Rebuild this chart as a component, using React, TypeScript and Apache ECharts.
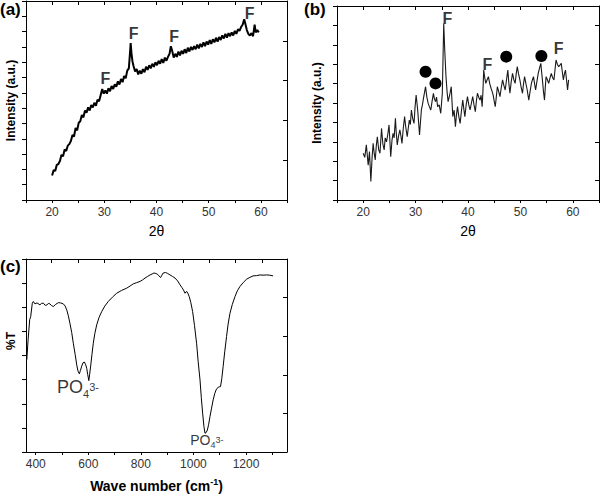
import React, { useEffect, useRef } from "react";
import * as echarts from "echarts";

const FONT = 'Arial, "Liberation Sans", Helvetica, sans-serif';

// ---- Panel (a): XRD pattern ----
const xrdA: [number, number][] = [
  [20.0,1.60],[20.3,1.95],[20.6,1.90],[20.9,2.30],[21.2,2.35],[21.5,2.55],[21.8,2.95],[22.1,2.85],[22.4,3.30],[22.7,3.20],
  [23.0,3.55],[23.3,3.65],[23.6,3.85],[23.9,4.25],[24.2,4.15],[24.5,4.70],[24.8,4.55],[25.1,5.05],[25.4,5.15],[25.7,5.55],
  [26.0,5.40],[26.3,5.85],[26.6,5.70],[26.9,6.05],[27.2,5.85],[27.5,6.20],[27.8,6.05],[28.1,6.35],[28.4,6.15],[28.7,6.55],
  [29.0,6.45],[29.3,6.85],[29.6,7.25],[29.9,6.95],[30.2,7.15],[30.5,6.95],[30.8,7.30],[31.1,7.10],[31.4,7.45],[31.7,7.25],
  [32.0,7.55],[32.3,7.40],[32.6,7.75],[32.9,7.55],[33.2,7.90],[33.5,7.70],[33.8,8.10],[34.1,7.95],[34.4,8.45],[34.7,8.60],
  [34.9,9.50],[35.05,10.25],[35.2,9.60],[35.4,9.05],[35.6,8.75],[35.9,8.40],[36.2,8.55],[36.5,8.20],[36.8,8.45],[37.1,8.25],
  [37.4,8.55],[37.7,8.35],[38.0,8.70],[38.3,8.50],[38.6,8.80],[38.9,8.60],[39.2,8.90],[39.5,8.70],[39.8,9.00],[40.1,8.80],
  [40.4,9.10],[40.7,8.90],[41.0,9.20],[41.3,8.95],[41.6,9.30],[41.9,9.10],[42.2,9.35],[42.5,9.55],[42.75,10.05],[43.0,9.75],
  [43.3,9.30],[43.6,9.55],[43.9,9.35],[44.2,9.70],[44.5,9.45],[44.8,9.75],[45.1,9.55],[45.4,9.85],[45.7,9.60],[46.0,9.95],
  [46.3,9.70],[46.6,10.00],[46.9,9.80],[47.2,10.05],[47.5,9.85],[47.8,10.15],[48.1,9.90],[48.4,10.20],[48.7,10.00],[49.0,10.30],
  [49.3,10.05],[49.6,10.35],[49.9,10.15],[50.2,10.45],[50.5,10.20],[50.8,10.50],[51.1,10.30],[51.4,10.60],[51.7,10.35],[52.0,10.65],
  [52.3,10.45],[52.6,10.75],[52.9,10.55],[53.2,10.85],[53.5,10.60],[53.8,10.90],[54.1,10.70],[54.4,10.95],[54.7,10.75],[55.0,11.05],
  [55.3,10.85],[55.6,11.15],[55.9,11.05],[56.2,11.30],[56.5,11.45],[56.8,11.80],[57.0,11.55],[57.3,11.10],[57.6,10.85],[57.9,10.75],
  [58.2,10.90],[58.5,10.70],[58.8,11.45],[59.0,10.95],[59.3,11.10],[59.6,10.95],
];
const fLabelsA: [number, number][] = [[30.2, 7.95], [35.6, 10.9], [43.4, 10.67], [57.85, 12.2]];

// ---- Panel (b): XRD pattern ----
const xrdB: [number, number][] = [
  [20.0,2.41],[20.3,2.2],[20.6,2.84],[20.95,1.80],[21.2,2.5],[21.46,0.95],[21.7,2.2],[21.9,2.92],[22.1,2.4],[22.3,2.06],
  [22.5,2.8],[22.7,3.26],[22.95,2.6],[23.2,2.41],[23.5,3.69],[23.75,2.9],[24.0,2.58],[24.2,3.2],[24.45,3.0],[24.7,3.4],
  [24.93,3.87],[25.1,3.0],[25.25,2.23],[25.5,3.1],[25.7,3.44],[25.9,3.2],[26.15,4.21],[26.3,3.5],[26.5,2.84],[26.75,3.3],
  [27.0,3.61],[27.2,3.3],[27.4,2.92],[27.65,3.7],[27.9,4.3],[28.1,3.8],[28.4,3.26],[28.6,3.7],[28.8,4.12],[29.0,3.9],
  [29.2,4.64],[29.45,4.2],[29.7,3.95],[29.9,4.8],[30.1,5.41],[30.4,4.64],[30.75,3.35],[31.1,4.64],[31.3,4.9],[31.5,5.24],
  [31.9,5.84],[32.15,5.3],[32.4,4.98],[32.65,4.8],[32.9,4.64],[33.15,5.1],[33.4,5.50],[33.6,5.2],[33.8,5.07],[34.0,5.3],
  [34.2,4.81],[34.5,4.9],[34.8,4.47],[35.1,5.5],[35.25,7.5],[35.37,9.1],[35.55,7.8],[35.8,6.36],[36.0,5.6],[36.2,5.07],
  [36.5,5.4],[36.8,5.84],[37.1,4.3],[37.35,4.64],[37.6,3.78],[37.8,4.4],[38.0,4.81],[38.25,4.3],[38.5,3.95],[38.75,4.6],
  [39.0,5.15],[39.2,4.7],[39.4,4.3],[39.65,4.9],[39.9,5.33],[40.15,4.9],[40.4,4.64],[40.65,5.0],[40.9,5.33],[41.15,4.9],
  [41.4,4.55],[41.6,5.1],[41.8,5.5],[42.05,5.3],[42.3,5.15],[42.5,5.4],[42.7,4.81],[42.85,5.6],[43.0,6.7],[43.2,6.3],
  [43.4,6.01],[43.65,6.2],[43.9,6.36],[44.15,6.0],[44.4,5.76],[44.6,5.6],[44.8,5.41],[45.0,5.1],[45.2,4.81],[45.4,5.3],
  [45.6,5.84],[45.85,5.6],[46.1,5.33],[46.35,5.8],[46.6,6.19],[46.85,5.9],[47.1,5.67],[47.35,6.2],[47.6,6.70],[47.8,6.0],
  [48.0,5.5],[48.25,6.1],[48.5,6.53],[48.75,6.2],[49.0,6.01],[49.2,6.5],[49.4,6.87],[49.65,6.5],[49.9,6.19],[50.15,5.8],
  [50.4,5.5],[50.6,6.0],[50.8,6.36],[51.05,6.0],[51.3,5.67],[51.45,5.4],[51.6,5.15],[51.85,5.6],[52.1,6.01],[52.3,6.2],
  [52.5,6.36],[52.7,6.0],[52.9,5.67],[53.15,6.1],[53.4,6.53],[53.65,6.8],[53.9,7.04],[54.05,6.6],[54.2,6.19],[54.4,5.6],
  [54.6,5.15],[54.75,5.8],[54.9,6.36],[55.15,6.2],[55.4,6.01],[55.65,6.3],[55.9,6.53],[56.15,6.3],[56.4,6.19],[56.6,6.7],
  [56.8,7.22],[57.05,7.0],[57.3,6.87],[57.55,6.95],[57.8,7.04],[58.0,6.6],[58.2,6.19],[58.4,6.5],[58.6,6.7],[58.8,6.2],
  [59.0,5.67],[59.2,6.19],
];
const fLabelsB: [number, number][] = [[36.05, 9.37], [43.7, 7.0], [57.3, 7.82]];
const circlesB: [number, number][] = [[31.9, 6.61], [33.8, 6.01], [47.3, 7.39], [54.0, 7.42]];

// ---- Panel (c): FTIR spectrum ----
const ftirC: [number, number][] = [
  [366,3.82],[371,4.65],[377,5.48],[381,5.62],[387,6.17],[391,6.24],[397,6.14],[405,6.18],[416,6.10],[422,6.16],
  [429,6.17],[436,6.08],[442,6.09],[448,6.16],[454,6.14],[460,6.07],[467,6.03],[476,6.12],[486,6.19],[495,6.18],
  [505,6.14],[512,6.05],[518,5.89],[524,5.65],[530,5.34],[537,4.95],[543,4.51],[550,4.05],[556,3.61],[561,3.35],
  [566,3.24],[570,3.38],[575,3.56],[580,3.70],[585,3.73],[590,3.62],[594,3.47],[598,3.20],[602,2.96],[605,3.20],
  [609,3.56],[614,4.05],[619,4.51],[625,4.92],[632,5.27],[641,5.58],[651,5.82],[663,6.05],[676,6.24],[692,6.42],
  [708,6.58],[727,6.70],[746,6.79],[759,6.88],[771,6.97],[784,7.02],[797,7.07],[806,7.13],[816,7.21],[826,7.28],
  [835,7.34],[843,7.38],[850,7.42],[857,7.40],[863,7.37],[869,7.30],[875,7.23],[880,7.33],[885,7.42],[894,7.44],
  [902,7.40],[911,7.34],[920,7.28],[930,7.21],[940,7.09],[949,6.93],[956,6.82],[962,6.72],[968,6.58],[972,6.64],
  [975,6.65],[980,6.55],[984,6.44],[990,6.20],[997,5.82],[1004,5.25],[1012,4.51],[1018,3.75],[1025,2.99],[1030,2.25],
  [1035,1.61],[1040,1.05],[1044,0.78],[1048,0.80],[1053,0.91],[1058,1.15],[1063,1.47],[1069,1.82],[1075,2.16],[1081,2.42],
  [1086,2.57],[1090,2.64],[1094,2.68],[1098,2.70],[1103,2.71],[1108,3.05],[1113,3.54],[1119,4.15],[1126,4.78],[1132,5.30],
  [1139,5.75],[1148,6.12],[1158,6.44],[1167,6.68],[1177,6.86],[1190,7.03],[1202,7.16],[1215,7.24],[1227,7.30],[1240,7.31],
  [1253,7.34],[1265,7.33],[1278,7.34],[1290,7.33],[1303,7.30],
];
const po4Labels: { pos: [number, number]; big: boolean }[] = [
  { pos: [561, 2.53], big: true },
  { pos: [1051, 0.39], big: false },
];

// ---- tick values ----
const xrdTicks = [15, 20, 25, 30, 35, 40, 45, 50, 55, 60, 65];
const xrdLabels = [20, 30, 40, 50, 60];
const ftirTicks = [400, 500, 600, 700, 800, 900, 1000, 1100, 1200, 1300];
const ftirLabels = [400, 600, 800, 1000, 1200];
const ftirTopTicks = [460, 560, 660, 760, 860, 960, 1060, 1160, 1260];
const rightTicksB = [1, 3, 5, 7, 9];

const AXIS_LINE = { show: true, onZero: false, lineStyle: { color: "#000", width: 1 } };
const NO_BORDER = { textBorderWidth: 0, textBorderColor: "transparent", textShadowBlur: 0 };

function bottomX(gridIndex: number, min: number, max: number, ticks: number[], labels: number[], name: any, nameGap: number, nameTextStyle: any) {
  return {
    type: "value", gridIndex, position: "bottom", min, max,
    axisLine: AXIS_LINE,
    axisTick: { show: true, inside: false, length: 3, customValues: ticks, lineStyle: { color: "#000" } },
    axisLabel: {
      show: true, customValues: labels, fontSize: 12, color: "#333", fontFamily: FONT, margin: 6,
      formatter: (v: number) => String(v),
    },
    splitLine: { show: false },
    name, nameLocation: "middle", nameGap, nameTextStyle,
  };
}
function topX(gridIndex: number, min: number, max: number, ticks: number[]) {
  return {
    type: "value", gridIndex, position: "top", min, max,
    axisLine: AXIS_LINE,
    axisTick: { show: true, inside: true, length: 4, customValues: ticks, lineStyle: { color: "#000" } },
    axisLabel: { show: false },
    splitLine: { show: false },
  };
}
function leftY(gridIndex: number, min: number, max: number, interval: number, name: string, nameGap: number) {
  return {
    type: "value", gridIndex, position: "left", min, max, interval,
    axisLine: AXIS_LINE,
    axisTick: { show: true, inside: false, length: 4, lineStyle: { color: "#000" } },
    axisLabel: { show: false },
    splitLine: { show: false },
    name, nameLocation: "middle", nameRotate: 90, nameGap,
    nameTextStyle: { fontSize: 12, fontWeight: "bold", color: "#000", fontFamily: FONT },
  };
}
function rightY(gridIndex: number, min: number, max: number, extra: any) {
  return {
    type: "value", gridIndex, position: "right", min, max,
    axisLine: AXIS_LINE,
    axisTick: { show: true, inside: true, length: 4, lineStyle: { color: "#000" }, ...(extra.tick || {}) },
    axisLabel: { show: false },
    splitLine: { show: false },
    ...(extra.axis || {}),
  };
}

const fLabelStyle = {
  show: true, position: "inside", formatter: "F", fontSize: 16, fontWeight: "bold", color: "#000", fontFamily: FONT, ...NO_BORDER,
};

export default function App() {
  const ref = useRef<HTMLDivElement>(null);
  useEffect(() => {
    if (!ref.current) return;
    const chart = echarts.init(ref.current, null, { renderer: "svg" });
    const twoTheta = { fontSize: 14, color: "#000", fontFamily: FONT };
    const option: any = {
      animation: false,
      backgroundColor: "#fff",
      grid: [
        { left: 26, top: 1, width: 261, height: 199, containLabel: false, outerBoundsMode: "none" },
        { left: 337, top: 6, width: 262, height: 194, containLabel: false, outerBoundsMode: "none" },
        { left: 26, top: 259, width: 261, height: 193, containLabel: false, outerBoundsMode: "none" },
      ],
      xAxis: [
        bottomX(0, 15, 65, xrdTicks, xrdLabels, "2θ", 24, twoTheta),
        topX(0, 15, 65, xrdTicks),
        bottomX(1, 15, 65, xrdTicks, xrdLabels, "2θ", 24, twoTheta),
        topX(1, 15, 65, xrdTicks),
        bottomX(2, 363, 1356, ftirTicks, ftirLabels, "{a|Wave number (cm}{s|-1}{a|)}", 25, {
          rich: {
            a: { fontSize: 14, fontWeight: "bold", color: "#000", fontFamily: FONT, verticalAlign: "bottom", lineHeight: 16 },
            s: { fontSize: 9, fontWeight: "bold", color: "#000", fontFamily: FONT, verticalAlign: "top", lineHeight: 9 },
          },
        }),
        topX(2, 363, 1356, ftirTopTicks),
      ],
      yAxis: [
        leftY(0, 0, 13, 1, "Intensity (a.u.)", 9),
        rightY(0, 0, 5, { axis: { interval: 1 } }),
        leftY(1, 0, 10, 1, "Intensity (a.u.)", 14),
        rightY(1, 0, 10, { tick: { customValues: rightTicksB } }),
        leftY(2, 0, 8, 1, "", 0),
        rightY(2, 0, 5, { axis: { interval: 1 } }),
      ],
      graphic: [
        { type: "text", left: 0, top: 1, style: { text: "(a)", fontSize: 17, fontWeight: "bold", fill: "#000", fontFamily: FONT } },
        { type: "text", left: 304, top: 1, style: { text: "(b)", fontSize: 17, fontWeight: "bold", fill: "#000", fontFamily: FONT } },
        { type: "text", left: 0, top: 258, style: { text: "(c)", fontSize: 17, fontWeight: "bold", fill: "#000", fontFamily: FONT } },
        {
          type: "text", x: 11, y: 341, rotation: Math.PI / 2,
          style: { text: "%T", fontSize: 12, fontWeight: "bold", fill: "#000", fontFamily: FONT, align: "center", verticalAlign: "middle" },
        },
      ],
      series: [
        {
          type: "line", xAxisIndex: 0, yAxisIndex: 0, data: xrdA, showSymbol: false, symbol: "none",
          lineStyle: { color: "#000", width: 2 }, silent: true,
        },
        {
          type: "scatter", xAxisIndex: 0, yAxisIndex: 0, data: fLabelsA, symbolSize: 1,
          itemStyle: { color: "rgba(0,0,0,0)" }, label: fLabelStyle, silent: true,
        },
        {
          type: "line", xAxisIndex: 2, yAxisIndex: 2, data: xrdB, showSymbol: false, symbol: "none",
          lineStyle: { color: "#1a1a1a", width: 1.1 }, silent: true,
        },
        {
          type: "scatter", xAxisIndex: 2, yAxisIndex: 2, data: fLabelsB, symbolSize: 1,
          itemStyle: { color: "rgba(0,0,0,0)" }, label: fLabelStyle, silent: true,
        },
        {
          type: "scatter", xAxisIndex: 2, yAxisIndex: 2, data: circlesB, symbol: "circle", symbolSize: 12,
          itemStyle: { color: "#000", opacity: 1 }, silent: true,
        },
        {
          type: "line", xAxisIndex: 4, yAxisIndex: 4, data: ftirC, showSymbol: false, symbol: "none",
          lineStyle: { color: "#000", width: 1 }, silent: true,
        },
        {
          type: "scatter", xAxisIndex: 4, yAxisIndex: 4, symbolSize: 1, silent: true,
          itemStyle: { color: "rgba(0,0,0,0)" },
          data: po4Labels.map((d) => ({
            value: d.pos,
            label: {
              show: true, position: "inside", color: "#000", ...NO_BORDER,
              formatter: d.big ? "{p|PO}{s|4}{t|3-}" : "{q|PO}{u|4}{v|3-}",
              rich: {
                p: { fontSize: 18, color: "#000", fontFamily: FONT, verticalAlign: "bottom", lineHeight: 18, padding: [0, 0, 4, 0], ...NO_BORDER },
                s: { fontSize: 11, color: "#000", fontFamily: FONT, verticalAlign: "bottom", lineHeight: 11, ...NO_BORDER },
                t: { fontSize: 11, color: "#000", fontFamily: FONT, verticalAlign: "top", lineHeight: 11, ...NO_BORDER },
                q: { fontSize: 14, color: "#000", fontFamily: FONT, verticalAlign: "bottom", lineHeight: 14, padding: [0, 0, 3, 0], ...NO_BORDER },
                u: { fontSize: 9, color: "#000", fontFamily: FONT, verticalAlign: "bottom", lineHeight: 9, ...NO_BORDER },
                v: { fontSize: 9, color: "#000", fontFamily: FONT, verticalAlign: "top", lineHeight: 9, ...NO_BORDER },
              },
            },
          })),
        },
      ],
    };
    chart.setOption(option);
    return () => chart.dispose();
  }, []);
  return (
    <div
      ref={ref}
      style={{ position: "absolute", left: 0, top: 0, width: 600, height: 495, background: "#fff" }}
    />
  );
}
